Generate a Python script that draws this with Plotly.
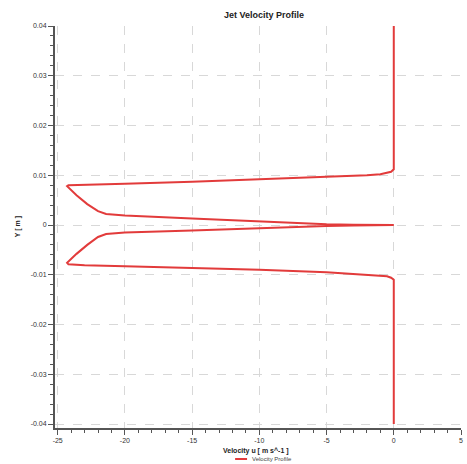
import plotly.graph_objects as go

# Velocity profile path (u in m/s, y in m)
velocity_u = [0, 0, -0.2, -0.5, -1, -2, -5, -10, -15, -20, -23, -24.2,
              -24.3, -23.6, -22.8, -22.0, -21.4, -20, -15, -10, -7, -5, -3, 0,
              -3, -5, -7, -10, -15, -20, -21.4, -22.0, -22.8, -23.6, -24.3,
              -24.2, -23, -20, -15, -10, -5, -2, -1, -0.5, -0.2, 0, 0]
position_y = [0.04, 0.0112, 0.0107, 0.0105, 0.0102, 0.0100, 0.0097, 0.0091, 0.0087, 0.0083, 0.0081, 0.0080,
              0.0078, 0.0060, 0.0042, 0.0028, 0.0022, 0.0019, 0.0013, 0.0007, 0.0003, 0.00015, 0.00005, 0.0,
              -0.0001, -0.0002, -0.0004, -0.0007, -0.0011, -0.0015, -0.0018, -0.0024, -0.0040, -0.0058, -0.0076,
              -0.0079, -0.0081, -0.0083, -0.0086, -0.0090, -0.0095, -0.0100, -0.0102, -0.0103, -0.0106, -0.0110, -0.04]

x_tickvals = [-25, -20, -15, -10, -5, 0, 5]
x_ticktext = ["-25", "-20", "-15", "-10", "-5", "0", "5"]
y_tickvals = [0.04, 0.03, 0.02, 0.01, 0, -0.01, -0.02, -0.03, -0.04]
y_ticktext = ["0.04", "0.03", "0.02", "0.01", "0", "-0.01", "-0.02", "-0.03", "-0.04"]

RED = "#e23b3b"
AXIS = "#555555"
FONT = "Liberation Sans"

fig = go.Figure()
fig.add_trace(go.Scatter(x=velocity_u, y=position_y, mode="lines",
                         line=dict(color=RED, width=2), name="Velocity Profile",
                         showlegend=False))

common = dict(showline=True, linecolor=AXIS, linewidth=2, ticks="outside",
              ticklen=5, tickwidth=1, tickcolor=AXIS, zeroline=False,
              showgrid=True, gridcolor="#d8d8d8", griddash="dash", gridwidth=1,
              tickfont=dict(family=FONT, size=7, color="#333"))

fig.update_xaxes(range=[-25.2, 5], tickvals=x_tickvals, ticktext=x_ticktext,
                 minor=dict(dtick=1, ticks="outside", ticklen=3, tickcolor=AXIS, showgrid=False),
                 **common)
fig.update_yaxes(range=[-0.0408, 0.04], tickvals=y_tickvals, ticktext=y_ticktext,
                 minor=dict(dtick=0.002, ticks="outside", ticklen=3, tickcolor=AXIS, showgrid=False),
                 **common)

fig.update_layout(
    width=467, height=464,
    margin=dict(l=55, r=4, t=26, b=36),
    plot_bgcolor="white", paper_bgcolor="white",
    showlegend=False,
    annotations=[
        dict(text="<b>Jet Velocity Profile</b>", xref="paper", yref="paper",
             x=0.515, y=1.027, showarrow=False, xanchor="center", yanchor="middle",
             font=dict(family=FONT, size=9, color="#222")),
        dict(text="<b>Velocity u [ m s^-1 ]</b>", xref="paper", yref="paper",
             x=0.495, y=-0.057, showarrow=False, xanchor="center", yanchor="middle",
             font=dict(family=FONT, size=7, color="#222")),
        dict(text="<b>Y [ m ]</b>", xref="paper", yref="paper",
             x=(18 - 55) / 408, y=0.5, showarrow=False, textangle=-90,
             xanchor="center", yanchor="middle",
             font=dict(family=FONT, size=7, color="#222")),
        dict(text="Velocity Profile", xref="paper", yref="paper",
             x=(251 - 55) / 408, y=(428 - 459) / 402, showarrow=False,
             xanchor="left", yanchor="middle",
             font=dict(family=FONT, size=6, color="#444")),
    ],
    shapes=[
        dict(type="line", xref="paper", yref="paper",
             x0=(236 - 55) / 408, x1=(248 - 55) / 408,
             y0=(428 - 459) / 402, y1=(428 - 459) / 402,
             line=dict(color=RED, width=2)),
    ],
)

fig.write_html("out.html", config={"displayModeBar": False},
               post_script="document.body.style.margin='0';")
